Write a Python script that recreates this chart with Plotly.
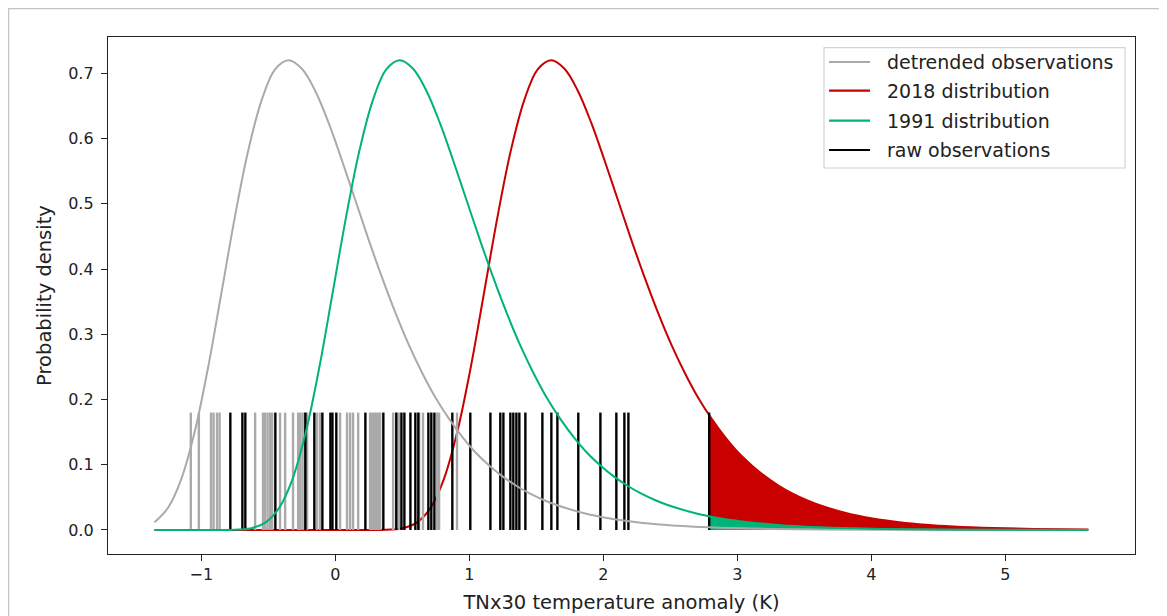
import plotly.graph_objects as go

# ---------------- data ----------------
gray_x = [-1.35, -1.25, -1.15, -1.05, -0.95, -0.85, -0.75, -0.65, -0.55, -0.45,
          -0.35, -0.25, -0.15, -0.05, 0.05, 0.15, 0.25, 0.35, 0.45, 0.55,
          0.65, 0.75, 0.85, 0.95, 1.05, 1.15, 1.25, 1.35, 1.45, 1.55,
          1.65, 1.85, 2.05, 2.25, 2.45, 2.65, 2.95, 3.25, 3.65, 4.15, 4.65, 5.62]
gray_y = [0.0117, 0.0338, 0.0781, 0.1505, 0.249, 0.364, 0.480, 0.582, 0.659, 0.706,
          0.720, 0.707, 0.673, 0.624, 0.566, 0.505, 0.444, 0.386, 0.332, 0.283,
          0.240, 0.202, 0.170, 0.142, 0.118, 0.0986, 0.0818, 0.0678, 0.0561, 0.0464,
          0.0383, 0.0261, 0.0177, 0.0120, 0.0081, 0.0055, 0.0031, 0.0017, 0.0008, 0.0003, 0.0001, 0.0]

green_x = [-1.35, -0.92, -0.82, -0.72, -0.62, -0.52, -0.42, -0.32, -0.22, -0.12,
           -0.02, 0.08, 0.18, 0.28, 0.38, 0.48, 0.58, 0.68, 0.78, 0.88,
           0.98, 1.08, 1.18, 1.28, 1.38, 1.48, 1.58, 1.68, 1.78, 1.88,
           1.98, 2.08, 2.18, 2.28, 2.38, 2.48, 2.68, 2.88, 3.08, 3.28,
           3.48, 3.78, 4.08, 4.48, 4.98, 5.62]
green_y = [0.0, 0.0, 0.0001, 0.0006, 0.0031, 0.0117, 0.0338, 0.0781, 0.1505, 0.249,
           0.364, 0.480, 0.582, 0.659, 0.706, 0.720, 0.707, 0.673, 0.624, 0.566,
           0.505, 0.444, 0.386, 0.332, 0.283, 0.240, 0.202, 0.170, 0.142, 0.118,
           0.0986, 0.0818, 0.0678, 0.0561, 0.0464, 0.0383, 0.0261, 0.0177, 0.0120, 0.0081,
           0.0055, 0.0031, 0.0017, 0.0008, 0.0003, 0.0001]

red_x = [-1.35, -0.19, 0.11, 0.21, 0.31, 0.41, 0.51, 0.61, 0.71, 0.81,
         0.91, 1.01, 1.11, 1.21, 1.31, 1.41, 1.51, 1.61, 1.71, 1.81,
         1.91, 2.01, 2.11, 2.21, 2.31, 2.41, 2.51, 2.61, 2.71, 2.81,
         2.91, 3.01, 3.11, 3.21, 3.31, 3.41, 3.51, 3.61, 3.81, 4.01,
         4.21, 4.41, 4.61, 4.91, 5.21, 5.62]
red_y = [0.0, 0.0, 0.0, 0.0, 0.0001, 0.0006, 0.0031, 0.0117, 0.0338, 0.0781,
         0.1505, 0.249, 0.364, 0.480, 0.582, 0.659, 0.706, 0.720, 0.707, 0.673,
         0.624, 0.566, 0.505, 0.444, 0.386, 0.332, 0.283, 0.240, 0.202, 0.170,
         0.142, 0.118, 0.0986, 0.0818, 0.0678, 0.0561, 0.0464, 0.0383, 0.0261, 0.0177,
         0.0120, 0.0081, 0.0055, 0.0031, 0.0017, 0.0007]

# observation rugs
detrended_obs = [-1.079, -1.019, -0.928, -0.909, -0.883, -0.864, -0.599, -0.540, -0.525, -0.506,
                 -0.487, -0.472, -0.413, -0.375, -0.316, -0.278, -0.263, -0.245, -0.226, -0.211,
                 -0.137, -0.114, 0.035, 0.087, 0.110, 0.132, 0.170, 0.259, 0.274, 0.289,
                 0.304, 0.319, 0.334, 0.431, 0.453, 0.475, 0.625, 0.654, 0.759, 0.774, 0.908]
raw_obs = [-0.784, -0.694, -0.672, -0.448, -0.224, -0.157, -0.097, -0.037, -0.022, 0.007,
           0.224, 0.358, 0.455, 0.493, 0.515, 0.560, 0.597, 0.619, 0.694, 0.716,
           0.739, 0.873, 1.007, 1.157, 1.231, 1.254, 1.306, 1.328, 1.351, 1.373,
           1.418, 1.545, 1.612, 1.657, 1.813, 1.978, 2.097, 2.157, 2.187, 2.79]
rug_height = 0.18

# 2018 event threshold and curve heights at it
event_value = 2.79
red_at_event = 0.176
green_at_event = 0.021

x_ticks = [-1, 0, 1, 2, 3, 4, 5]
y_ticks = [0.0, 0.1, 0.2, 0.3, 0.4, 0.5, 0.6, 0.7]

legend_names = ["detrended observations", "2018 distribution", "1991 distribution", "raw observations"]

GRAY = "#aaaaaa"
RED = "#c80000"
GREEN = "#00b377"
BLACK = "#000000"
legend_colors = [GRAY, RED, GREEN, BLACK]
FONT = "DejaVu Sans"
TXT = "#222222"


def rug(values):
    xs, ys = [], []
    for v in values:
        xs += [v, v, None]
        ys += [0, rug_height, None]
    return xs, ys


def tail(xs, ys, x0, y0):
    tx, ty = [x0], [y0]
    for a, b in zip(xs, ys):
        if a > x0:
            tx.append(a)
            ty.append(b)
    return tx, ty


fig = go.Figure()

# exceedance fills
rfx, rfy = tail(red_x, red_y, event_value, red_at_event)
gfx, gfy = tail(green_x, green_y, event_value, green_at_event)
fig.add_trace(go.Scatter(x=rfx, y=rfy, mode="lines", fill="tozeroy", fillcolor=RED,
                         line=dict(width=0, color=RED, shape="spline"), hoverinfo="skip"))
fig.add_trace(go.Scatter(x=gfx, y=gfy, mode="lines", fill="tozeroy", fillcolor=GREEN,
                         line=dict(width=0, color=GREEN, shape="spline"), hoverinfo="skip"))

# 2018 distribution
fig.add_trace(go.Scatter(x=red_x, y=red_y, mode="lines", name=legend_names[1],
                         line=dict(color=RED, width=2, shape="spline")))

# rugs
dx, dy = rug(detrended_obs)
fig.add_trace(go.Scatter(x=dx, y=dy, mode="lines", line=dict(color=GRAY, width=2.4),
                         hoverinfo="skip"))
bx, by = rug(raw_obs)
fig.add_trace(go.Scatter(x=bx, y=by, mode="lines", name=legend_names[3],
                         line=dict(color=BLACK, width=2.4)))

# detrended observations fit
fig.add_trace(go.Scatter(x=gray_x, y=gray_y, mode="lines", name=legend_names[0],
                         line=dict(color=GRAY, width=2, shape="spline")))
# 1991 distribution
fig.add_trace(go.Scatter(x=green_x, y=green_y, mode="lines", name=legend_names[2],
                         line=dict(color=GREEN, width=2, shape="spline")))

axis_common = dict(showgrid=False, zeroline=False, showline=True, linecolor=TXT,
                   linewidth=1.3, mirror=True, ticks="outside", ticklen=6,
                   tickcolor=TXT, tickwidth=1.3, automargin=False,
                   tickfont=dict(family=FONT, size=16, color=TXT))

# ---- outer frame and legend box drawn in paper coordinates (matplotlib-style) ----
shapes = [dict(type="rect", xref="paper", yref="paper",
               x0=-0.0969, x1=1.0273, y0=-0.14, y1=1.0551,
               line=dict(color="#c4c4c4", width=1.5), layer="below"),
          dict(type="rect", xref="paper", yref="paper",
               x0=0.6972, x1=0.9903, y0=0.7466, y1=0.9793,
               fillcolor="rgba(255,255,255,0.85)",
               line=dict(color="#d4d4d4", width=1.2), layer="above")]
annotations = []
row_y = [0.9516, 0.8961, 0.8381, 0.7814]
for name, col, yy in zip(legend_names, legend_colors, row_y):
    shapes.append(dict(type="line", xref="paper", yref="paper",
                       x0=0.7021, x1=0.7420, y0=yy, y1=yy,
                       line=dict(color=col, width=2.2), layer="above"))
    annotations.append(dict(xref="paper", yref="paper", x=0.7566, y=yy,
                            xanchor="left", yanchor="middle", showarrow=False,
                            text=name, font=dict(family=FONT, size=19, color=TXT)))

fig.update_layout(
    width=1159, height=608,
    margin=dict(l=100, r=32, t=29, b=62),
    paper_bgcolor="white", plot_bgcolor="white",
    font=dict(family=FONT, color=TXT),
    showlegend=False,
    xaxis=dict(range=[-1.697, 5.968], tickvals=x_ticks,
               title=dict(text="TNx30 temperature anomaly (K)",
                          font=dict(family=FONT, size=19.5, color=TXT), standoff=12),
               **axis_common),
    yaxis=dict(range=[-0.0368, 0.7557], tickvals=y_ticks, tickformat=".1f",
               ticklabelstandoff=4,
               title=dict(text="Probability density",
                          font=dict(family=FONT, size=19.5, color=TXT), standoff=11),
               **axis_common),
    shapes=shapes,
    annotations=annotations,
)

fig.write_html("out.html")
